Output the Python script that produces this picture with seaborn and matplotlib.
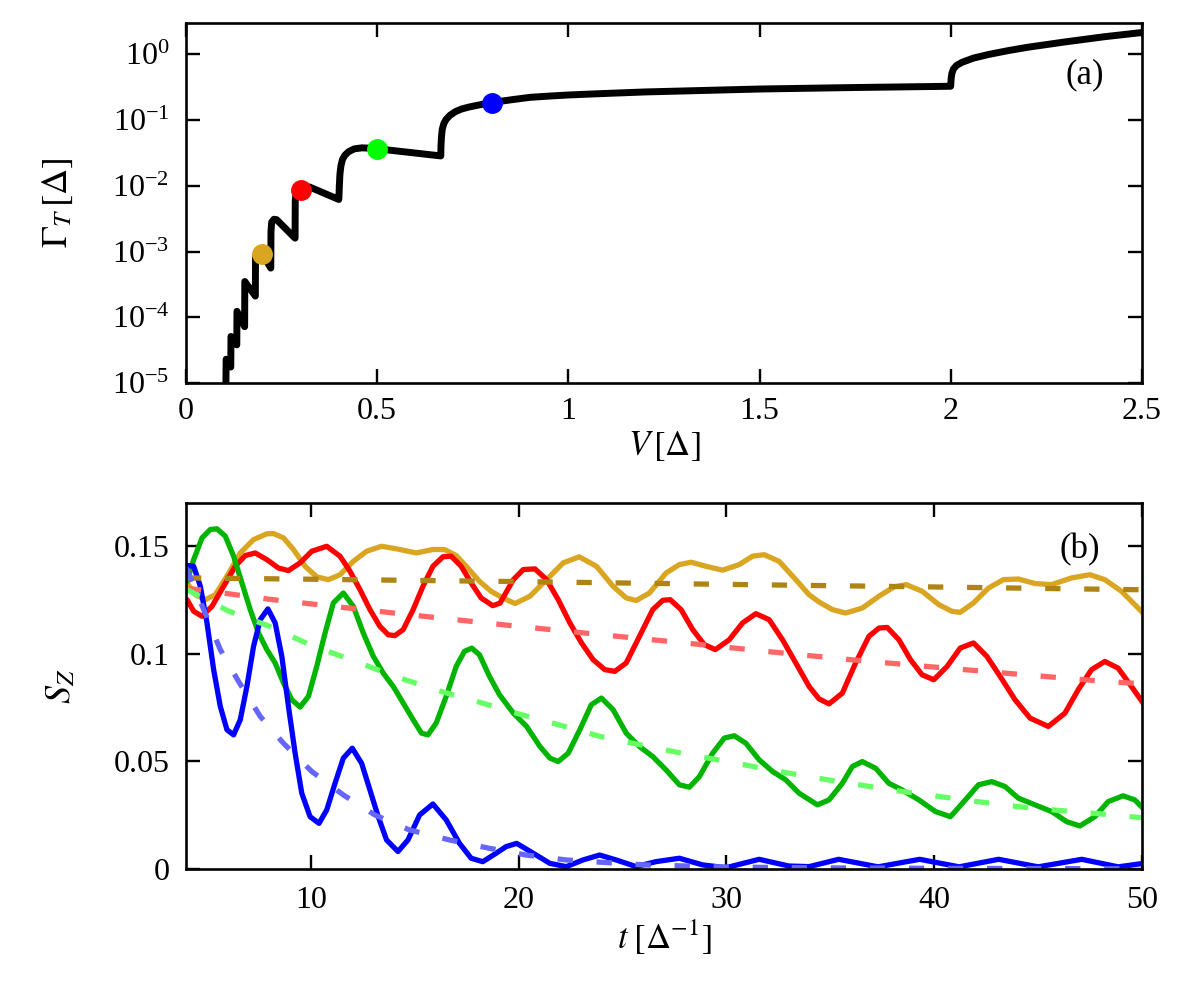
import numpy as np
import pandas as pd
import seaborn as sns
import matplotlib.pyplot as plt
from matplotlib.ticker import NullLocator, FixedLocator

# panel (a): tunneling rate vs bias
v_top = [0.1040, 0.1050, 0.1171, 0.1176, 0.1328, 0.1333, 0.1533, 0.1538,
         0.1813, 0.1818, 0.1840, 0.2000, 0.2217, 0.2222, 0.2240, 0.2300,
         0.2370, 0.2852, 0.2857, 0.2880, 0.3000, 0.3230, 0.3995,
         0.4000, 0.4010, 0.4025, 0.4050, 0.4090, 0.4150, 0.4250, 0.4400,
         0.4600, 0.4800, 0.5000, 0.6662,
         0.6667, 0.6680, 0.6700, 0.6740, 0.6800, 0.6900, 0.7050, 0.7200,
         0.7400, 0.7600, 0.7800, 0.8000, 0.8300, 0.8540, 0.9000, 0.9500,
         1.0000, 1.0800, 1.2000, 1.5000, 1.7500, 1.9995,
         2.0000, 2.0010, 2.0030, 2.0070, 2.0150, 2.0300, 2.0600, 2.1000,
         2.1500, 2.2000, 2.3000, 2.4000, 2.5000]
gamma_top = [6.0e-6, 2.3e-5, 1.75e-5, 5.1e-5, 3.8e-5, 1.23e-4, 7.2e-5, 3.5e-4,
             2.1e-4, 8.0e-4, 9.6e-4, 9.2e-4, 5.6e-4, 2.0e-3, 2.8e-3, 3.1e-3,
             3.05e-3, 1.6e-3, 6.0e-3, 7.8e-3, 8.8e-3, 9.6e-3, 6.2e-3,
             7.0e-3, 0.010, 0.015, 0.020, 0.025, 0.029, 0.033, 0.0365,
             0.0378, 0.0374, 0.0366, 0.0285,
             0.040, 0.055, 0.072, 0.088, 0.102, 0.118, 0.135, 0.147,
             0.158, 0.167, 0.176, 0.184, 0.196, 0.205, 0.222, 0.232,
             0.241, 0.252, 0.268, 0.297, 0.313, 0.327,
             0.36, 0.44, 0.52, 0.60, 0.68, 0.76, 0.88, 1.00,
             1.14, 1.28, 1.55, 1.85, 2.15]

dot_v = [0.2, 0.3, 0.5, 0.8]
dot_gamma = [9.2e-4, 8.6e-3, 0.0366, 0.184]
dot_colors = ['#DAA520', '#FF0000', '#00FF00', '#0000FF']

# panel (b): S_Z(t), solid = full evolution, dashed = envelope
gold_t = [4.05, 4.45, 4.93, 5.41, 5.97, 6.61, 7.25, 7.89, 8.21, 8.69, 9.17, 9.73,
          10.29, 10.85, 11.41, 12.05, 12.69, 13.41, 14.13, 15.08, 15.88, 16.44,
          17.0, 17.56, 18.12, 18.68, 19.24, 19.83, 20.55, 21.35, 22.15, 22.92,
          23.75, 24.55, 25.18, 25.66, 26.3, 27.1, 27.74, 28.3, 29.02, 29.82,
          30.62, 31.26, 31.82, 32.54, 33.34, 33.98, 34.46, 35.1, 35.74, 36.54,
          37.34, 38.06, 38.65, 39.42, 40.22, 40.85, 41.25, 41.89, 42.61, 43.33,
          44.05, 44.85, 45.65, 46.61, 47.49, 48.21, 49.01, 49.65, 50.05]
gold_s = [0.1329, 0.1274, 0.1251, 0.1274, 0.1360, 0.1468, 0.1530, 0.1557, 0.1558,
          0.1538, 0.1484, 0.1406, 0.1357, 0.1344, 0.1367, 0.1429, 0.1476, 0.1499,
          0.1487, 0.1468, 0.1484, 0.1484, 0.1456, 0.1398, 0.1336, 0.1290, 0.1259,
          0.1233, 0.1267, 0.1344, 0.1422, 0.1450, 0.1406, 0.1313, 0.1259, 0.1247,
          0.1282, 0.1375, 0.1414, 0.1425, 0.1406, 0.1388, 0.1414, 0.1453, 0.1460,
          0.1429, 0.1344, 0.1274, 0.1240, 0.1205, 0.1189, 0.1212, 0.1267, 0.1310,
          0.1321, 0.1290, 0.1228, 0.1197, 0.1192, 0.1236, 0.1305, 0.1344, 0.1347,
          0.1326, 0.1321, 0.1352, 0.1367, 0.1344, 0.1290, 0.1228, 0.1189]

red_t = [4.05, 4.37, 4.77, 5.25, 5.81, 6.37, 6.85, 7.33, 7.89, 8.45, 8.93, 9.49,
         10.05, 10.77, 11.41, 11.89, 12.37, 12.85, 13.33, 13.73, 14.05, 14.45,
         14.93, 15.4, 15.88, 16.36, 16.76, 17.24, 17.72, 18.2, 18.76, 19.11,
         19.75, 20.23, 20.79, 21.35, 21.91, 22.47, 23.03, 23.59, 24.15, 24.63,
         25.18, 25.82, 26.46, 26.94, 27.3, 27.82, 28.38, 28.94, 29.47, 30.14,
         30.78, 31.42, 32.06, 32.7, 33.34, 33.98, 34.46, 34.94, 35.58, 36.22,
         36.86, 37.34, 37.74, 38.3, 38.86, 39.42, 39.98, 40.62, 41.25, 41.89,
         42.53, 43.17, 43.89, 44.61, 45.49, 46.29, 46.93, 47.57, 48.21, 48.85,
         49.49, 50.05]
red_s = [0.1251, 0.1197, 0.1174, 0.1220, 0.1313, 0.1406, 0.1456, 0.1468, 0.1437,
         0.1398, 0.1386, 0.1422, 0.1476, 0.1499, 0.1453, 0.1383, 0.1298, 0.1205,
         0.1127, 0.1088, 0.1084, 0.1112, 0.1205, 0.1313, 0.1406, 0.1450, 0.1453,
         0.1406, 0.1329, 0.1259, 0.1223, 0.1235, 0.1344, 0.1391, 0.1394, 0.1344,
         0.1251, 0.1143, 0.1050, 0.0972, 0.0926, 0.0918, 0.0957, 0.1081, 0.1205,
         0.1248, 0.1251, 0.1205, 0.1112, 0.1042, 0.1019, 0.1065, 0.1143, 0.1186,
         0.1158, 0.1065, 0.0957, 0.0848, 0.0790, 0.0767, 0.0817, 0.0957, 0.1081,
         0.1119, 0.1122, 0.1065, 0.0972, 0.0902, 0.0879, 0.0941, 0.1026, 0.1050,
         0.0988, 0.0895, 0.0786, 0.0701, 0.0662, 0.0724, 0.0833, 0.0926, 0.0964,
         0.0933, 0.0848, 0.0771]

green_t = [4.05, 4.37, 4.77, 5.17, 5.49, 5.89, 6.29, 6.69, 7.09, 7.49, 7.89, 8.29,
           8.69, 9.09, 9.49, 9.89, 10.29, 10.69, 11.09, 11.57, 12.05, 12.53,
           13.01, 13.49, 13.97, 14.45, 14.93, 15.33, 15.64, 16.04, 16.52, 17.0,
           17.4, 17.75, 18.12, 18.6, 19.08, 19.75, 20.39, 21.03, 21.51, 21.91,
           22.39, 22.95, 23.5, 23.99, 24.55, 25.18, 25.82, 26.46, 27.1, 27.74,
           28.22, 28.7, 29.34, 29.9, 30.38, 30.94, 31.58, 32.22, 32.86, 33.5,
           34.38, 34.94, 35.58, 36.06, 36.54, 37.18, 37.82, 38.46, 39.26, 40.06,
           40.78, 41.5, 42.13, 42.77, 43.41, 44.05, 44.85, 45.65, 46.37, 47.01,
           47.73, 48.37, 49.09, 49.65, 50.05]
green_s = [0.1336, 0.1437, 0.1538, 0.1577, 0.1580, 0.1546, 0.1453, 0.1329, 0.1205,
           0.1096, 0.1019, 0.0957, 0.0864, 0.0786, 0.0752, 0.0802, 0.0941, 0.1096,
           0.1236, 0.1282, 0.1220, 0.1096, 0.0988, 0.0910, 0.0848, 0.0771, 0.0693,
           0.0631, 0.0623, 0.0678, 0.0802, 0.0941, 0.1011, 0.1026, 0.0995, 0.0895,
           0.0810, 0.0724, 0.0662, 0.0569, 0.0515, 0.0499, 0.0538, 0.0647, 0.0763,
           0.0794, 0.0740, 0.0631, 0.0569, 0.0522, 0.0460, 0.0391, 0.0380, 0.0429,
           0.0538, 0.0608, 0.0619, 0.0584, 0.0507, 0.0453, 0.0414, 0.0352, 0.0298,
           0.0321, 0.0398, 0.0476, 0.0499, 0.0468, 0.0398, 0.0367, 0.0321, 0.0267,
           0.0243, 0.0321, 0.0391, 0.0406, 0.0383, 0.0329, 0.0298, 0.0267, 0.0220,
           0.0200, 0.0243, 0.0313, 0.0340, 0.0321, 0.0282]

blue_t = [4.05, 4.37, 4.69, 5.01, 5.33, 5.65, 5.97, 6.29, 6.61, 6.93, 7.25, 7.57,
          7.94, 8.29, 8.61, 8.93, 9.25, 9.57, 9.97, 10.4, 10.77, 11.17, 11.57,
          12.0, 12.45, 12.85, 13.25, 13.65, 14.2, 14.68, 15.24, 15.88, 16.52,
          17.16, 17.72, 18.28, 18.92, 19.4, 19.91, 20.71, 21.51, 22.3, 23.1,
          23.9, 24.7, 25.66, 26.6, 27.74, 28.86, 29.98, 31.58, 33.0, 33.98,
          35.4, 37.3, 39.3, 41.2, 43.1, 45.0, 47.1, 48.85, 50.05]
blue_s = [0.1410, 0.1406, 0.1313, 0.1143, 0.0926, 0.0755, 0.0647, 0.0623, 0.0693,
          0.0848, 0.1034, 0.1158, 0.1208, 0.1143, 0.0988, 0.0755, 0.0538, 0.0352,
          0.0243, 0.0212, 0.0274, 0.0398, 0.0515, 0.0561, 0.0491, 0.0367, 0.0243,
          0.0135, 0.0081, 0.0135, 0.0251, 0.0302, 0.0228, 0.0119, 0.0050, 0.0034,
          0.0073, 0.0104, 0.0119, 0.0073, 0.0026, 0.0011, 0.0042, 0.0065, 0.0042,
          0.0011, 0.0034, 0.0050, 0.0019, 0.0006, 0.0045, 0.0014, 0.0011,
          0.0045, 0.0010, 0.0045, 0.0010, 0.0045, 0.0010, 0.0045, 0.0010, 0.0026]

gold_dash_t = [4, 10, 20, 30, 40, 50]
gold_dash_s = [0.1352, 0.1346, 0.1335, 0.1322, 0.1310, 0.1297]
red_dash_t = [4, 8, 12, 16, 20, 24, 28, 32, 36, 40, 44, 48, 50]
red_dash_s = [0.1305, 0.1253, 0.1210, 0.1168, 0.1127, 0.1088, 0.1050, 0.1010,
              0.0972, 0.0938, 0.0905, 0.0873, 0.0860]
green_dash_t = [4, 6, 8, 10, 12, 14, 16, 18, 20, 22, 24, 26, 28, 30, 32, 34, 36, 38,
                40, 42, 44, 46, 48, 50]
green_dash_s = [0.130, 0.120, 0.1128, 0.104, 0.097, 0.0897, 0.0832, 0.0778, 0.0721,
                0.0668, 0.0614, 0.0574, 0.0535, 0.050, 0.0463, 0.0428, 0.0397,
                0.0366, 0.034, 0.0314, 0.029, 0.0272, 0.0256, 0.0238]
blue_dash_t = [4.0, 4.85, 5.65, 6.53, 7.57, 8.69, 10.05, 11.57, 13.09, 14.76, 16.68,
               18.6, 20.35, 22.3, 24.2, 26.1, 30, 35, 40, 45, 50]
blue_dash_s = [0.140, 0.1205, 0.1019, 0.0871, 0.0709, 0.0584, 0.0453, 0.0344,
               0.0251, 0.0181, 0.0135, 0.0096, 0.0065, 0.0042, 0.003, 0.0019,
               0.0009, 0.0005, 0.0003, 0.0002, 0.0001]

sns.set_theme(style='ticks')
plt.rcParams['font.family'] = ['Liberation Serif', 'DejaVu Serif']
plt.rcParams['mathtext.fontset'] = 'stix'
plt.rcParams['axes.linewidth'] = 1.9
plt.rcParams['text.color'] = 'black'
plt.rcParams['axes.labelcolor'] = 'black'
plt.rcParams['xtick.color'] = 'black'
plt.rcParams['ytick.color'] = 'black'

fig = plt.figure(figsize=(12, 10), dpi=100)
ax1 = fig.add_axes([0.155, 0.617, 0.7967, 0.36])
ax2 = fig.add_axes([0.155, 0.131, 0.7967, 0.366])

# top panel
sns.lineplot(x=v_top, y=gamma_top, ax=ax1, color='black', lw=5.0,
             sort=False, estimator=None, solid_joinstyle='round')
for v, g, c in zip(dot_v, dot_gamma, dot_colors):
    ax1.plot(v, g, 'o', color=c, markersize=14, zorder=5)
ax1.set_yscale('log')
ax1.set_xlim(0, 2.5)
ax1.set_ylim(1e-5, 3.0)
ax1.yaxis.set_major_locator(FixedLocator([1e-5, 1e-4, 1e-3, 1e-2, 1e-1, 1e0]))
ax1.yaxis.set_minor_locator(NullLocator())
ax1.set_xticks([0, 0.5, 1, 1.5, 2, 2.5])
ax1.set_xticklabels(['0', '0.5', '1', '1.5', '2', '2.5'])
ax1.set_xlabel(r'$V\,[\Delta]$', fontsize=25, labelpad=2)
ax1.set_ylabel(r'$\Gamma_{T}\,[\Delta]$', fontsize=26)
ax1.yaxis.set_label_coords(-0.116, 0.5)
ax1.text(0.94, 0.855, '(a)', transform=ax1.transAxes, fontsize=25,
         ha='center', va='center')

# bottom panel
solid = [(gold_t, gold_s, '#DAA520'), (red_t, red_s, '#FF0000'),
         (green_t, green_s, '#00B400'), (blue_t, blue_s, '#0000FF')]
for t, s, c in solid:
    sns.lineplot(x=t, y=s, ax=ax2, color=c, lw=3.8, sort=False, estimator=None,
                 solid_joinstyle='round')

dashed = [(gold_dash_t, gold_dash_s, '#AE8514'), (red_dash_t, red_dash_s, '#FF6666'),
          (green_dash_t, green_dash_s, '#66FF66'), (blue_dash_t, blue_dash_s, '#6666FF')]
for t, s, c in dashed:
    sns.lineplot(x=t, y=s, ax=ax2, color=c, lw=3.8, sort=False, estimator=None,
                 dashes=False, linestyle=(0, (2.9, 4.5)), dash_capstyle='butt')

ax2.set_xlim(4, 50)
ax2.set_ylim(0, 0.17)
ax2.set_xticks([10, 20, 30, 40, 50])
ax2.set_yticks([0, 0.05, 0.1, 0.15])
ax2.set_yticklabels(['0', '0.05', '0.1', '0.15'])
ax2.set_xlabel(r'$t\;[\Delta^{-1}]$', fontsize=25, labelpad=2)
ax2.set_ylabel(r'$S_Z$', fontsize=26)
ax2.yaxis.set_label_coords(-0.113, 0.5)
ax2.text(0.935, 0.872, '(b)', transform=ax2.transAxes, fontsize=25,
         ha='center', va='center')

for ax in (ax1, ax2):
    ax.tick_params(which='both', direction='in', length=10, width=1.7,
                   top=True, right=True, labelsize=23)
    ax.tick_params(axis='y', pad=12)
    ax.tick_params(axis='x', pad=10)
    for sp in ax.spines.values():
        sp.set_linewidth(1.9)
        sp.set_color('black')
ax2.tick_params(axis='x', pad=12)

fig.savefig('out.png', dpi=100)
